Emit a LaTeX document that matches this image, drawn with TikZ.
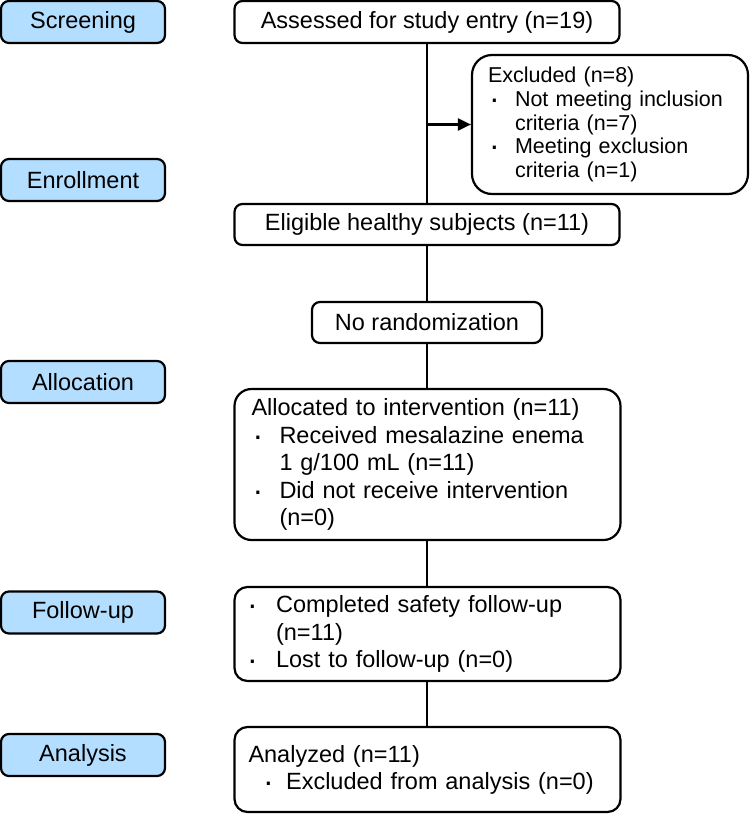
\documentclass[tikz,border=0pt]{standalone}
\usepackage{fontspec}
\setmainfont{Liberation Sans}
\usepackage{tikz}
\usetikzlibrary{arrows.meta}

\definecolor{stageblue}{RGB}{179,222,255}
\newcommand{\bul}[1][14pt]{\makebox[#1][l]{\hspace{0.5pt}\raisebox{-1.5pt}{\fontsize{16}{16}\selectfont ·}}}

\begin{document}
\begin{tikzpicture}[x=0.5pt,y=-0.5pt,
  font=\fontsize{11.75}{13.75}\selectfont,
  stage/.style={draw,line width=1.1pt,rounded corners=4pt,fill=stageblue,
    minimum width=82pt,minimum height=21pt,inner sep=0pt},
  box/.style={draw,line width=1.1pt,rounded corners=4pt,inner sep=0pt},
  listbox/.style={box,align=left,inner ysep=0pt},
  flow/.style={line width=1.1pt}]
  \useasboundingbox (0,0) rectangle (750,814);

  % stages on the left
  \node[stage] (screen) at (83,22) {Screening};
  \node[stage] (enrol) at (83,180) {Enrollment};
  \node[stage] (allocst) at (83,382) {Allocation};
  \node[stage] (followst) at (83,612.5) {Follow-up};
  \node[stage] (analysisst) at (83,755) {Analysis};

  % main column
  \node[box,minimum width=192.5pt,minimum height=21pt] (assess) at (427,22)
  {Assessed for study entry (n=19)};
  \node[listbox,rounded corners=10pt,text width=122pt,inner xsep=8pt,
    minimum height=69.5pt,font=\fontsize{10.75}{11.85}\selectfont] (excl) at (610,124.5)
  {Excluded (n=8)\\
   \bul[13.5pt]Not meeting inclusion\\
   \hspace*{13.5pt}criteria (n=7)\\
   \bul[13.5pt]Meeting exclusion\\
   \hspace*{13.5pt}criteria (n=1)};
  \node[box,minimum width=192.5pt,minimum height=20.5pt] (elig) at (427,224.5)
  {Eligible healthy subjects (n=11)};
  \node[box,minimum width=115pt,minimum height=20.5pt] (norand) at (427,322.5)
  {No randomization};
  \node[listbox,rounded corners=8.5pt,text width=176pt,inner xsep=8.5pt,
    minimum height=75.5pt] (alloc) at (427.5,464.5)
  {Allocated to intervention (n=11)\\
   \bul Received mesalazine enema\\
   \hspace*{14pt}1 g/100 mL (n=11)\\
   \bul Did not receive intervention\\
   \hspace*{14pt}(n=0)};
  \node[listbox,rounded corners=6.5pt,text width=181.4pt,inner xsep=5.8pt,
    minimum height=47pt] (follow) at (427.5,634)
  {\bul[15pt]Completed safety follow-up\\
   \hspace*{15pt}(n=11)\\
   \bul[15pt]Lost to follow-up (n=0)};
  \node[listbox,rounded corners=6.5pt,text width=179pt,inner xsep=7pt,
    minimum height=42.5pt,font=\fontsize{11.75}{13.5}\selectfont] (analysis) at (427.5,769.5)
  {Analyzed (n=11)\\
   \hspace*{6.8pt}\bul[12pt]Excluded from analysis (n=0)};

  % connectors
  \draw[flow] (assess) -- (elig);
  \draw[flow,-{Triangle[length=6.5pt,width=6pt]}] (assess.south |- excl.west) -- (excl.west);
  \draw[flow] (elig) -- (norand);
  \draw[flow] (norand.south) -- (norand.south |- alloc.north);
  \draw[flow] (alloc.south -| norand.south) -- (follow.north -| norand.south);
  \draw[flow] (follow.south -| norand.south) -- (analysis.north -| norand.south);
\end{tikzpicture}
\end{document}
